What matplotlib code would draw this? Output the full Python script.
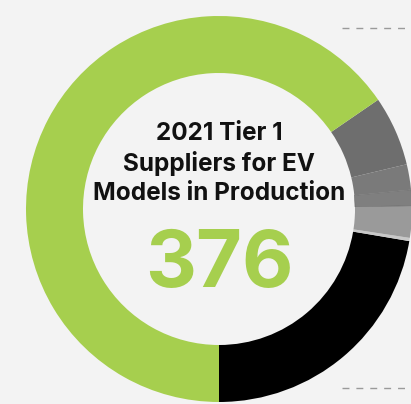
import matplotlib.pyplot as plt

# Tier 1 supplier counts (slices go counter-clockwise from 6 o'clock)
segments = ['black', 'thin', 'light gray', 'gray b', 'gray a', 'dark gray', 'green']
counts = [84, 1, 10, 5, 8, 22, 246]
colours = ['#000000', '#c8c8c8', '#9a9a9a', '#7f7f7f', '#7a7a7a', '#6e6e6e', '#a6cf4e']
total_label = '376'
title_lines = ['2021 Tier 1', 'Suppliers for EV', 'Models in Production']

bg = '#f3f3f3'
fig = plt.figure(figsize=(4.11, 4.04), dpi=100, facecolor=bg)
ax = fig.add_axes([0, 0, 1, 1])
ax.set_facecolor(bg)
ax.set_xlim(0, 411)
ax.set_ylim(0, 404)
ax.set_aspect('equal')
ax.axis('off')

# Donut, cut off on the right edge like the original
wedges, _ = ax.pie(counts, colors=colours, startangle=-90, counterclock=True,
                   center=(219, 195), radius=193,
                   wedgeprops=dict(width=57, linewidth=0))
# thin darker seam between the two middle grays
wedges[3].set_edgecolor('#666666')
wedges[3].set_linewidth(0.4)
ax.set_xlim(0, 411)
ax.set_ylim(0, 404)

# Center text
for i, line in enumerate(title_lines):
    ax.text(219, 271 - i * 30, line, ha='center', va='center',
            fontsize=17.5, fontweight='bold', family='Inter', color='#111111')
ax.text(219, 138, total_label, ha='center', va='center',
        fontsize=57, fontweight='bold', family='Inter', color='#a6cf4e')

# Dashed guide lines on the right
for y in (376, 16):
    ax.plot([342, 411], [y, y], color='#9a9a9a', lw=1, ls=(0, (5, 5)))

fig.savefig('out.png', dpi=100, facecolor=bg)
